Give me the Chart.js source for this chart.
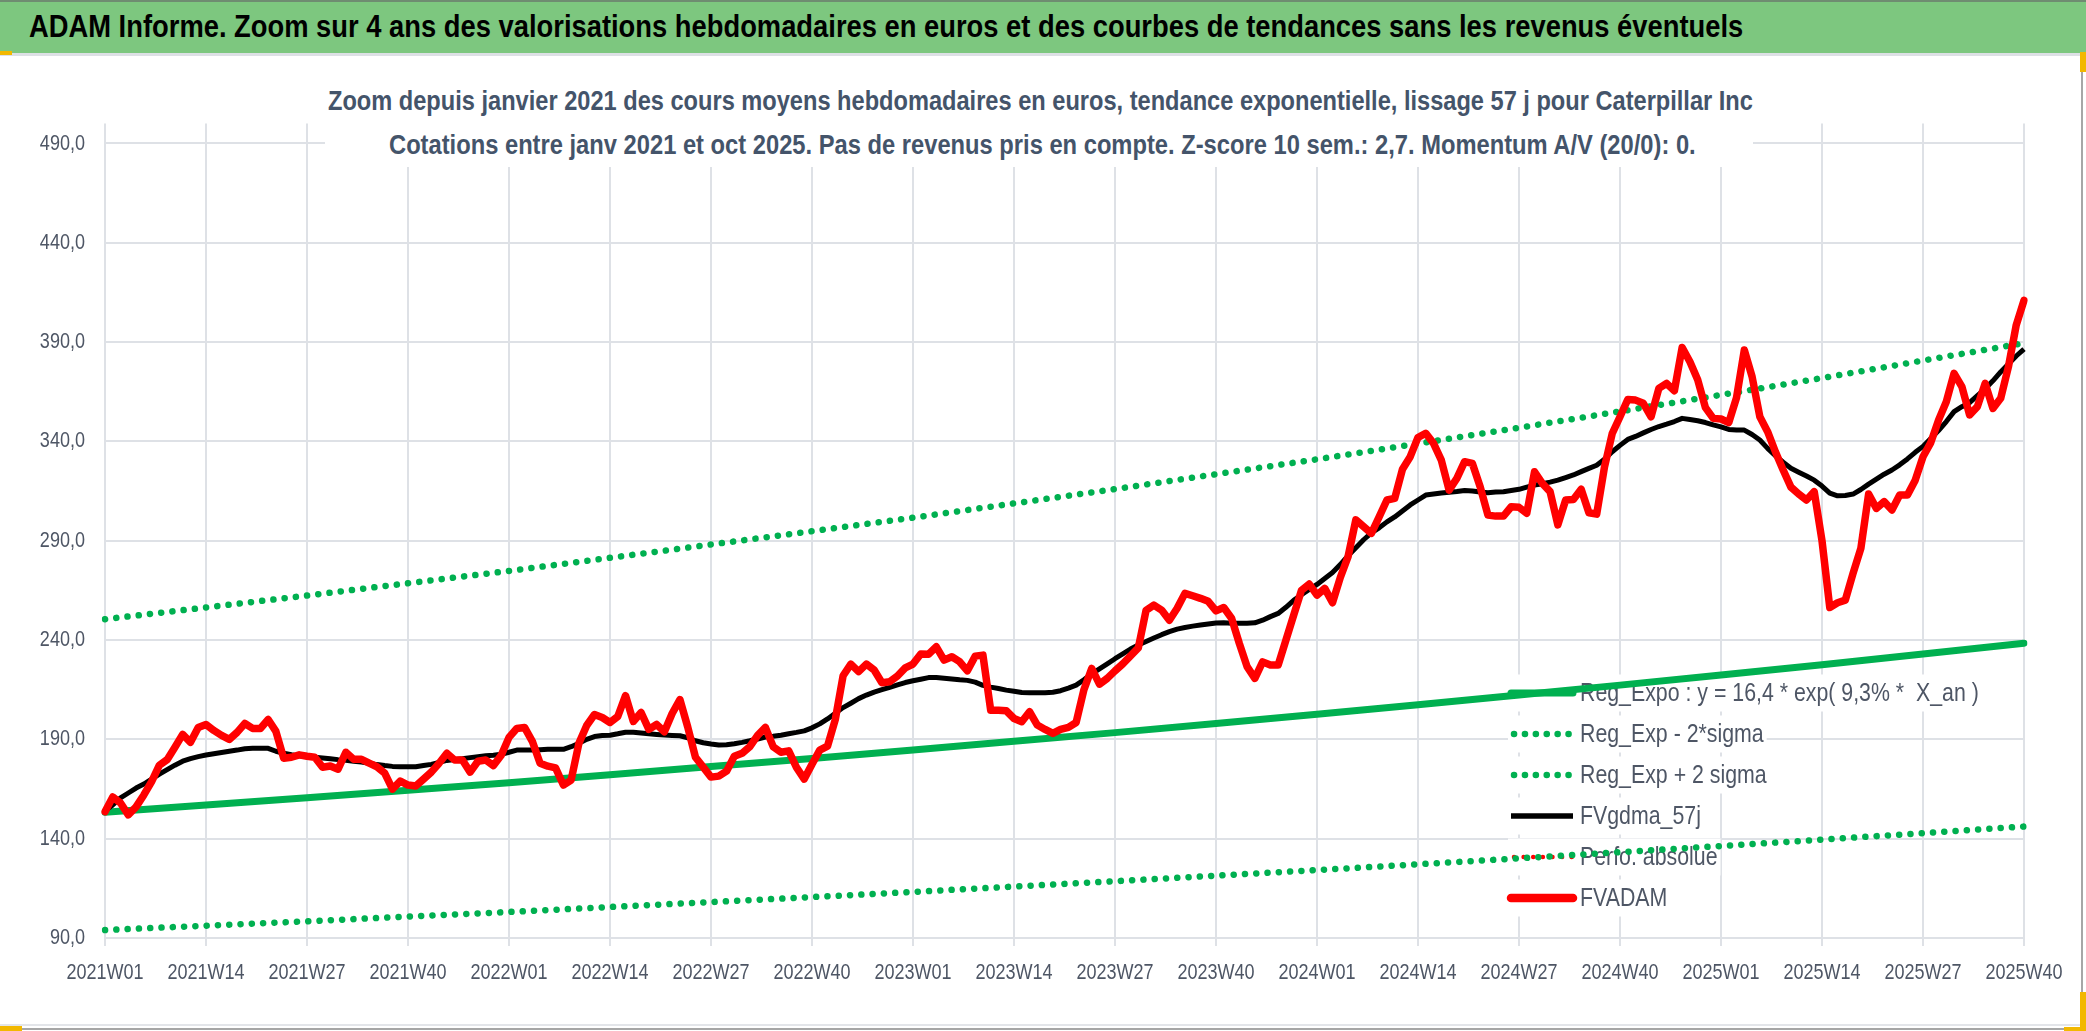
<!DOCTYPE html>
<html>
<head>
<meta charset="utf-8">
<script src="https://cdn.jsdelivr.net/npm/chart.js@4.4.1/dist/chart.umd.min.js"></script>
<style>
html,body{margin:0;padding:0;background:#fff;width:2086px;height:1031px;overflow:hidden;}
#wrap{position:absolute;left:0;top:0;width:2086px;height:1031px;z-index:1;}
#header{position:absolute;left:0;top:0;width:2086px;height:51px;background:#7DC77F;border-top:2px solid #6F8C71;z-index:3;}
#underline{position:absolute;left:0;top:53px;width:2086px;height:3px;background:#DDE0E5;z-index:3;}
#tbox{position:absolute;left:325px;top:60px;width:1428px;height:107px;background:#fff;z-index:2;}
.fit{position:absolute;white-space:nowrap;transform-origin:0 50%;line-height:1.15;z-index:4;}
#htext{color:#000;font-weight:bold;font-size:31px;}
.sub{color:#44546A;font-weight:bold;font-size:28px;}
.mark{position:absolute;background:#F2B800;z-index:5;}
#frameR{position:absolute;left:2081px;top:56px;width:2px;height:972px;background:#A6A6A6;z-index:3;}
#frameB{position:absolute;left:0;top:1028px;width:2083px;height:2px;background:#A6A6A6;z-index:3;}
#frameB2{position:absolute;left:0;top:1024px;width:2081px;height:2px;background:#E3E5E9;z-index:3;}
</style>
</head>
<body>
<div id="header"></div>
<span id="htext" class="fit">ADAM Informe. Zoom sur 4 ans des valorisations hebdomadaires en euros et des courbes de tendances sans les revenus éventuels</span>
<div id="underline"></div>
<div id="tbox"></div>
<span id="t1" class="fit sub">Zoom depuis janvier 2021 des cours moyens hebdomadaires en euros, tendance exponentielle, lissage 57 j pour Caterpillar Inc</span>
<span id="t2" class="fit sub">Cotations entre janv 2021 et oct 2025. Pas de revenus pris en compte. Z-score 10 sem.: 2,7. Momentum A/V (20/0): 0.</span>
<div id="frameR"></div>
<div id="frameB2"></div>
<div id="frameB"></div>
<div class="mark" style="left:0;top:51px;width:12px;height:4px;"></div>
<div class="mark" style="left:2080px;top:52px;width:6px;height:20px;"></div>
<div class="mark" style="left:2080px;top:992px;width:6px;height:39px;"></div>
<div class="mark" style="left:2064px;top:1027px;width:22px;height:4px;"></div>
<div class="mark" style="left:0;top:1026px;width:22px;height:5px;"></div>
<div id="wrap"><canvas id="c"></canvas></div>
<script>
// ---------------- data ----------------
const years = [2021, 2022, 2023, 2024, 2025];
const weeksInYear = [52, 52, 52, 52, 40];
const tickLabels = ['2021W01','2021W14','2021W27','2021W40','2022W01','2022W14','2022W27','2022W40',
  '2023W01','2023W14','2023W27','2023W40','2024W01','2024W14','2024W27','2024W40',
  '2025W01','2025W14','2025W27','2025W40'];
const yTicks = [90, 140, 190, 240, 290, 340, 390, 440, 490];

// regression (values read at each labelled week)
const regExpo = [153.3,156.9,160.6,164.4,168.2,172.2,176.3,180.4,184.6,189.0,193.4,198.0,202.6,207.4,212.3,217.3,222.4,227.6,233.0,238.4];
const regLow  = [94.0,96.2,98.4,100.8,103.1,105.6,108.1,110.6,113.2,115.9,118.6,121.4,124.2,127.1,130.1,133.2,136.3,139.5,142.8,146.1];
const regHigh = [250.5,256.4,262.4,268.6,274.8,281.4,288.1,294.8,301.6,308.8,316.0,323.5,331.0,338.9,346.9,355.1,363.4,371.9,380.7,389.5];

const fvadam = [
153.6,161,158,152,156,162,168.7,177,179.8,186,
192.5,188.5,196,197.5,194.5,192,190,193.5,198,195.5,
195.5,200,194,180.5,181,182.2,181.5,181,176,176.6,
175,183.5,180,180,178,176.2,173,165,169,167,
166.5,170,173.5,178,183,179.6,179.6,173.5,179,179.6,
176.8,182,191,195.5,196,189,178,176.5,175.6,167,
169.5,188,197,202.5,201,198.5,201.5,212,199,203.5,
195,197.5,193.8,203,210,196.3,181,176,171,171.5,
174,181.5,183,186.3,192,196,186.3,183.5,184.2,175.9,
170,177.5,184.6,186.6,200,222,227.9,224.1,227.9,224.9,
218.5,219,221.9,226,227.9,233,232.9,236.6,229.9,231.6,
229.1,224.5,231.9,232.4,204.7,204.7,204.4,200.5,198.9,203.9,
197.2,195,193,195,196,198.5,215,225.7,217.8,220.7,
224.5,228,232,236,255,257.6,255.1,250,256,263.5,
262.3,261,259.5,254.7,256.4,251,238.3,226.6,220.7,229,
227.4,227.4,240,252.6,265,268.2,262.6,266,258.8,271.5,
282,300.5,297.1,293.7,302,310.5,311.3,326,332.3,342,
344.1,339,330.6,315.5,321.4,329.8,328.9,317.2,302.9,302.4,
302.4,307.1,306.8,303.8,324.7,318.9,314.7,298,310.5,310.8,
315.9,304.1,303.4,327,344,352.4,361.1,360.8,359.2,352.4,
366.7,369.2,365.5,387.3,380.1,371,357,351.6,351.3,349.5,
362,386,372.6,352.4,344.9,334.8,325.6,317,313.5,310.5,
314.7,290,256.4,258.8,260.1,273.6,286.1,313.5,306.3,309.7,
305.5,313,313,320.5,332.3,339.4,350.7,360,374.3,367.6,
353.3,357.5,369.2,356.6,361.7,377.6,398.6,411
];

const fvgdma = [
154,157,160.5,163,165.5,167.5,170,172.5,174.8,177,
179,180.3,181.3,182.1,182.8,183.4,184,184.6,185.3,185.5,
185.5,185.5,184,183,182.3,181.7,181.3,181,180.6,180.2,
179.8,179.5,179,178.6,178,177.3,176.8,176.4,176.2,176.2,
176.2,176.8,177.4,178.4,179.4,179.8,180.2,180.8,181.3,181.7,
182,182.5,183.5,184.6,184.6,184.6,184.8,185,185,185,
186.3,188,190,191.4,191.9,192.1,192.8,193.6,193.6,193.2,
192.8,192.5,192.2,192,191.8,190.8,189.3,188.3,187.7,187.2,
187.3,187.8,188.5,189.3,190.2,191.2,191.6,192.1,192.8,193.5,
194.3,195.8,197.8,200.3,203.2,206,208.2,210.5,212.3,213.8,
215,216.2,217.4,218.6,219.5,220.3,221.1,221.2,220.8,220.4,
220,219.7,218.8,217.2,216.3,215.6,214.8,214.2,213.6,213.5,
213.5,213.5,213.7,214.5,215.8,217.3,220,223,225.5,228,
230.6,233,235.5,237.5,239.3,241,242.7,244.2,245.5,246.3,
247,247.6,248.1,248.6,248.7,248.5,248.4,248.5,248.7,250,
251.8,253.4,256.5,260,262.8,265.5,268,271,274,278,
282.5,286.5,290.5,294,296.5,299.5,302,305,308,310.5,
313,313.5,314,314.4,314.8,315.3,315,314.5,314.2,314.5,
314.7,315.3,315.9,317,318,318.7,319.5,320.5,321.8,323.1,
324.8,326.4,328,331,334.8,338,341,342.5,344.3,346,
347.5,348.7,350,351.6,351,350.4,349.5,348.3,347.3,346,
345.7,345.7,343.5,340.7,336.5,332.8,329.5,326.5,324.5,322.6,
320.5,317.5,314,312.6,312.8,313.5,315.8,318.5,321,323.5,
325.6,328.2,331.2,334.5,337.5,341.5,345.5,350,355,357.5,
359.5,363,366.5,370.5,375,379,383,386.5
];
const perfoAbsolue = [];

const seriesNames = ['Reg_Expo : y = 16,4 * exp( 9,3% *  X_an )','Reg_Exp - 2*sigma','Reg_Exp + 2 sigma','FVgdma_57j','Perfo. absolue','FVADAM'];

// ---------------- build ----------------
const categories = [];
years.forEach((y, k) => { for (let w = 1; w <= weeksInYear[k]; w++) categories.push(y + 'W' + String(w).padStart(2, '0')); });
const atTicks = arr => arr.map((v, k) => ({x: tickLabels[k], y: v}));

function fontAvailable(name) {
  const c = document.createElement('canvas').getContext('2d');
  const s = 'abcdefghijklmW0123456789';
  c.font = '40px monospace'; const w1 = c.measureText(s).width;
  c.font = '40px "' + name + '", monospace'; const w2 = c.measureText(s).width;
  return Math.abs(w1 - w2) > 0.5;
}
const NARROW = fontAvailable('Liberation Sans Narrow');
const FAM = NARROW ? '"Liberation Sans Narrow", "Liberation Sans", sans-serif' : '"Liberation Sans", sans-serif';
const TEXT_SX = NARROW ? 1 : 0.82;            // horizontal condensing of canvas text
const AXIS_FONT = {family: FAM, size: 22};
const LEGEND_FONT = '26px ' + FAM;

// HTML titles
function placeText(id, left, cy, targetW, centered) {
  const el = document.getElementById(id);
  el.style.fontFamily = FAM;
  const w = el.offsetWidth, h = el.offsetHeight;
  el.style.left = (centered ? left - targetW / 2 : left) + 'px';
  el.style.top = (cy - h / 2) + 'px';
  el.style.transform = 'scaleX(' + (targetW / w) + ')';
}
placeText('htext', 29, 27, 1714, false);
placeText('t1', 1040, 101, 1425, true);
placeText('t2', 1042, 145, 1307, true);

const GRID = '#DEE1E6';
const TXT = '#4E5665';

// condense tick label text (applied in the label's own rotated frame)
const condensePlugin = {
  id: 'condense',
  beforeDraw(chart) {
    const ctx = chart.ctx;
    const proto = CanvasRenderingContext2D.prototype.rotate;
    ctx.rotate = function (a) { proto.call(ctx, a); ctx.scale(TEXT_SX, 1); };
  },
  beforeDatasetsDraw(chart) { delete chart.ctx.rotate; }
};

const LEG = {x0: 1511, x1: 1573, textX: 1580, top: 693, pitch: 41, h: 37};
const legendPlugin = {
  id: 'inlineLegend',
  beforeDatasetsDraw(chart) {
    const ctx = chart.ctx;
    ctx.save();
    ctx.font = LEGEND_FONT;
    ctx.textBaseline = 'middle';
    chart.data.datasets.forEach((ds, k) => {
      const cy = LEG.top + k * LEG.pitch;
      const tw = ctx.measureText(ds.label).width * TEXT_SX;
      ctx.fillStyle = '#ffffff';
      ctx.fillRect(LEG.x0 - 3, cy - LEG.h / 2, LEG.textX + tw - LEG.x0 + 6, LEG.h);
      ctx.beginPath();
      ctx.strokeStyle = ds.borderColor;
      ctx.lineWidth = ds.legendWidth || ds.borderWidth;
      ctx.setLineDash(ds.borderDash ? ds.legendDash || ds.borderDash : []);
      ctx.lineCap = ds.borderCapStyle || 'butt';
      ctx.moveTo(LEG.x0 + (ds.borderDash ? 3 : 0), cy);
      ctx.lineTo(LEG.x1, cy);
      ctx.stroke();
      ctx.setLineDash([]);
      ctx.save();
      ctx.translate(LEG.textX, cy + 1);
      ctx.scale(TEXT_SX, 1);
      ctx.fillStyle = TXT;
      ctx.fillText(ds.label, 0, 0);
      ctx.restore();
    });
    ctx.restore();
  }
};

const chart = new Chart(document.getElementById('c'), {
  type: 'line',
  data: {
    labels: categories,
    datasets: [
      {label: seriesNames[0], data: atTicks(regExpo), borderColor: '#00B050', borderWidth: 7, borderCapStyle: 'round', spanGaps: true, order: 5},
      {label: seriesNames[1], data: atTicks(regLow), borderColor: '#00B050', borderWidth: 6.5, borderDash: [0.1, 11.2], borderCapStyle: 'round', spanGaps: true, order: 4, legendDash: [0.1, 10.8]},
      {label: seriesNames[2], data: atTicks(regHigh), borderColor: '#00B050', borderWidth: 6.5, borderDash: [0.1, 11.2], borderCapStyle: 'round', spanGaps: true, order: 3, legendDash: [0.1, 10.8]},
      {label: seriesNames[3], data: fvgdma, borderColor: '#000000', borderWidth: 5, borderJoinStyle: 'round', order: 1, legendWidth: 5.5},
      {label: seriesNames[4], data: perfoAbsolue, borderColor: '#FF0000', borderWidth: 4.5, borderDash: [0.1, 9], borderCapStyle: 'round', order: 2, legendDash: [0.1, 9.5]},
      {label: seriesNames[5], data: fvadam, borderColor: '#FF0000', borderWidth: 7.5, borderJoinStyle: 'round', borderCapStyle: 'round', order: 0, legendWidth: 8.5}
    ]
  },
  options: {
    responsive: true,
    maintainAspectRatio: false,
    animation: false,
    devicePixelRatio: 1,
    layout: {padding: {left: 0, right: 62, top: 123.6, bottom: 33}},
    elements: {point: {radius: 0, hoverRadius: 0}, line: {tension: 0, fill: false}},
    plugins: {legend: {display: false}, title: {display: false}, tooltip: {enabled: false}},
    scales: {
      x: {
        type: 'category',
        offset: false,
        border: {display: false},
        grid: {
          color: c => (c.index % 13 === 0 ? GRID : 'rgba(0,0,0,0)'),
          lineWidth: 2, tickLength: 8, drawTicks: true
        },
        ticks: {
          autoSkip: false, maxRotation: 0, minRotation: 0, padding: 14,
          color: TXT, font: AXIS_FONT,
          callback: (v, i) => (i % 13 === 0 ? categories[i] : '')
        },
        afterFit: s => { s.height = 60; }
      },
      y: {
        min: 90, max: 500,
        border: {display: false},
        afterBuildTicks: s => { s.ticks = yTicks.map(v => ({value: v})); },
        grid: {color: GRID, lineWidth: 2, drawTicks: false},
        ticks: {padding: 20, color: TXT, font: AXIS_FONT, callback: v => Number(v).toFixed(1).replace('.', ',')},
        afterFit: s => { s.width = 105; }
      }
    }
  },
  plugins: [condensePlugin, legendPlugin]
});
</script>
</body>
</html>
